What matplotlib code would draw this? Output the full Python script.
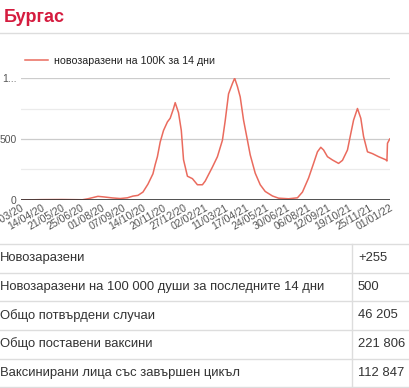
import pandas as pd
import matplotlib.pyplot as plt
import matplotlib.dates as mdates
from matplotlib.lines import Line2D
from matplotlib.ticker import MultipleLocator

plt.rcParams["font.family"] = ["Liberation Sans", "DejaVu Sans"]

TITLE = "Бургас"
SERIES_NAME = "новозаразени на 100K за 14 дни"

dates = [
    "2020-03-08", "2020-04-14", "2020-05-21", "2020-06-27", "2020-07-07", "2020-07-16",
    "2020-07-25", "2020-08-05", "2020-08-20", "2020-09-03", "2020-09-16", "2020-09-26",
    "2020-10-05", "2020-10-14", "2020-10-23", "2020-11-01", "2020-11-05", "2020-11-09",
    "2020-11-14", "2020-11-20", "2020-11-27", "2020-12-02", "2020-12-08", "2020-12-11",
    "2020-12-17", "2020-12-22", "2020-12-26", "2021-01-02", "2021-01-11", "2021-01-20",
    "2021-01-29", "2021-02-03", "2021-02-16", "2021-02-25", "2021-03-06", "2021-03-11",
    "2021-03-17", "2021-03-24", "2021-03-28", "2021-04-02", "2021-04-07", "2021-04-13",
    "2021-04-20", "2021-04-25", "2021-05-04", "2021-05-13", "2021-05-22", "2021-06-04",
    "2021-06-15", "2021-07-03", "2021-07-19", "2021-07-28", "2021-08-08", "2021-08-17",
    "2021-08-24", "2021-08-30", "2021-09-04", "2021-09-11", "2021-09-20", "2021-10-01",
    "2021-10-08", "2021-10-17", "2021-10-23", "2021-10-28", "2021-11-04", "2021-11-10",
    "2021-11-15", "2021-11-22", "2021-12-01", "2021-12-12", "2021-12-25", "2021-12-27",
    "2021-12-28", "2022-01-01",
]
values = [
    0, 3, 4, 2, 10, 20,
    30, 25, 17, 12, 18, 32,
    38, 65, 130, 215, 290, 355,
    475, 570, 640, 670, 750, 798,
    715, 570, 330, 195, 175, 125,
    125, 155, 270, 355, 490, 650,
    870, 955, 998, 930, 845, 655,
    490, 370, 220, 125, 70, 33,
    15, 10, 18, 65, 180, 300,
    395, 432, 410, 355, 328, 300,
    325, 410, 545, 655, 750, 670,
    520, 395, 380, 355, 330, 320,
    465, 500,
]

tick_dates = [
    "2020-03-08", "2020-04-14", "2020-05-21", "2020-06-25", "2020-08-01", "2020-09-07",
    "2020-10-14", "2020-11-20", "2020-12-27", "2021-02-02", "2021-03-11", "2021-04-17",
    "2021-05-24", "2021-06-30", "2021-08-06", "2021-09-12", "2021-10-19", "2021-11-25",
    "2022-01-01",
]

row_labels = [
    "Новозаразени",
    "Новозаразени на 100 000 души за последните 14 дни",
    "Общо потвърдени случаи",
    "Общо поставени ваксини",
    "Ваксинирани лица със завършен цикъл",
]
row_values = ["+255", "500", "46 205", "221 806", "112 847"]

W, H = 410, 388
fig = plt.figure(figsize=(W / 100, H / 100), dpi=100)


def fx(px):
    return px / W


def fy(py):
    return 1 - py / H


# заголовок + лінія
fig.text(fx(4), fy(18), TITLE, color="#d51c3f", fontsize=13, fontweight="bold", va="center")
fig.add_artist(Line2D([0, 1], [fy(33), fy(33)], color="#dddddd", lw=1))

# графік
ax = fig.add_axes([fx(20.7), fy(200), fx(389.7 - 20.7), fy(78) - fy(200)])
x = pd.to_datetime(dates)
ax.plot(x, values, color="#ea6b5e", lw=1.1, label=SERIES_NAME)
ax.set_xlim(pd.Timestamp("2020-03-08"), pd.Timestamp("2022-01-01"))
ax.set_ylim(0, 1000)
ax.yaxis.set_minor_locator(MultipleLocator(250))
ax.set_yticks([0, 500, 1000])
ax.set_yticklabels(["0", "500", "1..."])
ax.grid(axis="y", which="major", color="#cccccc", lw=0.9)
ax.grid(axis="y", which="minor", color="#ebebeb", lw=0.9)
ax.axhline(0, color="#333333", lw=1.2, zorder=3)
for s in ax.spines.values():
    s.set_visible(False)
ax.tick_params(axis="y", which="both", length=0, labelsize=7.5, labelcolor="#555555", pad=3)
ax.set_xticks(pd.to_datetime(tick_dates))
ax.xaxis.set_major_formatter(mdates.DateFormatter("%d/%m/%y"))
ax.tick_params(axis="x", length=0, labelsize=7.6, labelcolor="#555555", pad=2)
for lab in ax.get_xticklabels():
    lab.set_rotation(30)
    lab.set_ha("right")
    lab.set_rotation_mode("anchor")
ax.legend(loc="center left", bbox_to_anchor=(fx(15), fy(61)), bbox_transform=fig.transFigure,
          frameon=False, fontsize=7.7, handlelength=2.2, handletextpad=0.5,
          labelcolor="#222222")

# таблиця
row_lines = [244, 272.5, 301, 329.5, 358.5, 387]
for py in row_lines:
    fig.add_artist(Line2D([0, 1], [fy(py), fy(py)], color="#dddddd", lw=1))
fig.add_artist(Line2D([fx(351.7), fx(351.7)], [fy(244), fy(388)], color="#dddddd", lw=1))
for i, (lab, val) in enumerate(zip(row_labels, row_values)):
    cy = (row_lines[i] + row_lines[i + 1]) / 2
    fig.text(fx(0), fy(cy), lab, fontsize=9.4, color="#333333", va="center")
    fig.text(fx(358), fy(cy), val, fontsize=9.4, color="#333333", va="center")

fig.savefig("out.png", dpi=100)
